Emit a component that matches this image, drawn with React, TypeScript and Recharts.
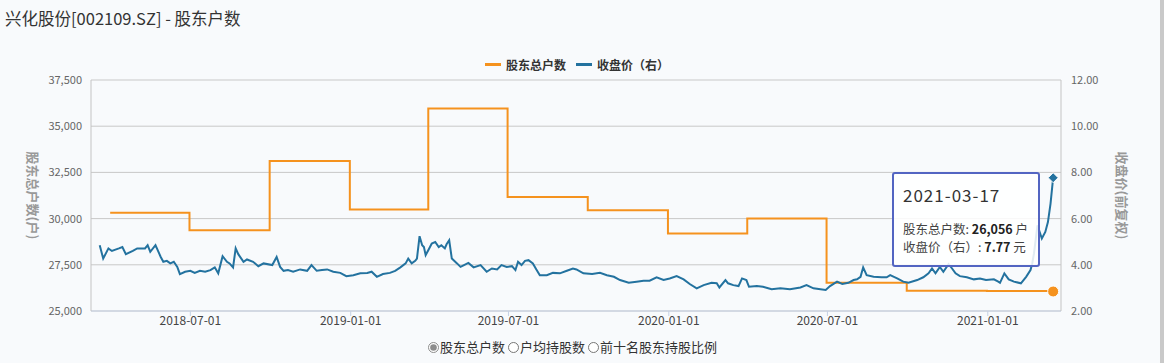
import React from 'react';
import { LineChart, Line, XAxis, YAxis, CartesianGrid, Tooltip, Legend } from 'recharts';

const TITLE = '兴化股份[002109.SZ] - 股东户数';
const SERIES_HOLDERS = '股东总户数';
const SERIES_PRICE = '收盘价（右）';
const LEFT_AXIS_NAME = '股东总户数(户)';
const RIGHT_AXIS_NAME = '收盘价(前复权)';
const RADIO_LABELS = ['股东总户数', '户均持股数', '前十名股东持股比例'];

const holderDates = [
  '2018-03-31', '2018-06-30', '2018-09-30', '2018-12-31', '2019-03-31', '2019-06-30',
  '2019-09-30', '2019-12-31', '2020-03-31', '2020-06-30', '2020-09-30', '2020-12-31', '2021-03-17',
];
const holderValues = [30320, 29370, 33120, 30490, 35960, 31170, 30450, 29190, 30010, 26530, 26100, 26080, 26056];

const priceDates = [
  '2018-03-19', '2018-03-23', '2018-03-29', '2018-04-02', '2018-04-10', '2018-04-14', '2018-04-18', '2018-04-26',
  '2018-05-01', '2018-05-10', '2018-05-13', '2018-05-16', '2018-05-22', '2018-05-28', '2018-05-31', '2018-06-04',
  '2018-06-08', '2018-06-12', '2018-06-16', '2018-06-19', '2018-06-25', '2018-07-01', '2018-07-06', '2018-07-12',
  '2018-07-18', '2018-07-24', '2018-07-29', '2018-08-02', '2018-08-07', '2018-08-12', '2018-08-15', '2018-08-19',
  '2018-08-22', '2018-08-25', '2018-08-31', '2018-09-04', '2018-09-11', '2018-09-17', '2018-09-23', '2018-10-03',
  '2018-10-08', '2018-10-12', '2018-10-16', '2018-10-21', '2018-10-27', '2018-11-04', '2018-11-12', '2018-11-17',
  '2018-11-23', '2018-11-29', '2018-12-05', '2018-12-12', '2018-12-20', '2018-12-27', '2019-01-04', '2019-01-12',
  '2019-01-20', '2019-01-25', '2019-01-31', '2019-02-07', '2019-02-15', '2019-02-21', '2019-02-27', '2019-03-05',
  '2019-03-08', '2019-03-12', '2019-03-16', '2019-03-18', '2019-03-21', '2019-03-24', '2019-03-26', '2019-03-28',
  '2019-03-31', '2019-04-04', '2019-04-08', '2019-04-12', '2019-04-15', '2019-04-19', '2019-04-21', '2019-04-24',
  '2019-04-27', '2019-05-03', '2019-05-07', '2019-05-11', '2019-05-16', '2019-05-22', '2019-05-30', '2019-06-06',
  '2019-06-12', '2019-06-18', '2019-06-23', '2019-06-29', '2019-07-05', '2019-07-09', '2019-07-12', '2019-07-16',
  '2019-07-20', '2019-07-24', '2019-07-29', '2019-08-02', '2019-08-06', '2019-08-14', '2019-08-21', '2019-08-29',
  '2019-09-06', '2019-09-13', '2019-09-17', '2019-09-25', '2019-10-05', '2019-10-14', '2019-10-22', '2019-10-30',
  '2019-11-06', '2019-11-16', '2019-11-25', '2019-12-03', '2019-12-10', '2019-12-18', '2019-12-26', '2020-01-02',
  '2020-01-10', '2020-01-18', '2020-01-25', '2020-02-02', '2020-02-10', '2020-02-19', '2020-02-25', '2020-02-28',
  '2020-03-06', '2020-03-09', '2020-03-15', '2020-03-21', '2020-03-25', '2020-03-30', '2020-04-02', '2020-04-11',
  '2020-04-18', '2020-04-28', '2020-05-08', '2020-05-19', '2020-05-31', '2020-06-07', '2020-06-15', '2020-06-23',
  '2020-06-29', '2020-07-04', '2020-07-12', '2020-07-18', '2020-07-25', '2020-07-31', '2020-08-04', '2020-08-08',
  '2020-08-11', '2020-08-15', '2020-08-23', '2020-09-01', '2020-09-07', '2020-09-11', '2020-09-19', '2020-09-26',
  '2020-10-02', '2020-10-12', '2020-10-19', '2020-10-25', '2020-10-29', '2020-11-02', '2020-11-07', '2020-11-11',
  '2020-11-17', '2020-11-21', '2020-11-25', '2020-11-30', '2020-12-08', '2020-12-16', '2020-12-23', '2020-12-30',
  '2021-01-08', '2021-01-13', '2021-01-15', '2021-01-20', '2021-01-25', '2021-01-31', '2021-02-08', '2021-02-14',
  '2021-02-19', '2021-02-21', '2021-02-23', '2021-02-27', '2021-03-04', '2021-03-08', '2021-03-11', '2021-03-14',
  '2021-03-17',
];
const priceValues = [
  4.85, 4.27, 4.71, 4.60, 4.71, 4.77, 4.46, 4.60,
  4.71, 4.71, 4.85, 4.56, 4.85, 4.34, 4.13, 4.17,
  4.06, 4.13, 3.91, 3.60, 3.70, 3.74, 3.65, 3.74,
  3.70, 3.77, 3.89, 3.63, 4.37, 4.13, 4.06, 3.89,
  4.71, 4.46, 4.13, 4.23, 4.13, 3.94, 4.06, 3.99,
  4.34, 3.91, 3.74, 3.77, 3.70, 3.80, 3.74, 3.99,
  3.74, 3.77, 3.80, 3.70, 3.65, 3.51, 3.55, 3.63,
  3.65, 3.70, 3.48, 3.60, 3.65, 3.74, 3.89, 4.06,
  4.27, 4.06, 4.17, 4.27, 5.24, 4.85, 4.77, 4.42,
  4.63, 4.92, 4.99, 4.77, 4.85, 4.71, 4.89, 5.06,
  4.27, 4.06, 3.91, 3.99, 4.08, 3.89, 3.99, 3.70,
  3.84, 3.80, 3.99, 3.91, 3.94, 3.77, 4.13, 3.99,
  4.17, 4.20, 4.06, 3.80, 3.55, 3.55, 3.65, 3.63,
  3.74, 3.84, 3.80, 3.63, 3.60, 3.65, 3.55, 3.48,
  3.34, 3.22, 3.27, 3.31, 3.31, 3.46, 3.34, 3.41,
  3.51, 3.37, 3.17, 2.98, 3.12, 3.22, 3.20, 3.02,
  3.34, 3.20, 3.12, 3.08, 3.41, 3.34, 3.05, 3.08,
  3.05, 2.94, 2.98, 2.94, 3.02, 3.12, 2.98, 2.94,
  2.91, 3.08, 3.27, 3.17, 3.22, 3.34, 3.37, 3.48,
  3.89, 3.55, 3.48, 3.46, 3.46, 3.55, 3.41, 3.27,
  3.22, 3.34, 3.46, 3.63, 3.84, 3.63, 3.91, 3.70,
  4.03, 3.84, 3.63, 3.51, 3.46, 3.37, 3.41, 3.34,
  3.37, 3.27, 3.22, 3.63, 3.37, 3.27, 3.20, 3.48,
  3.77, 4.06, 4.49, 5.71, 5.14, 5.42, 5.85, 6.65,
  7.77,
];

const xTickDates = ['2018-07-01', '2019-01-01', '2019-07-01', '2020-01-01', '2020-07-01', '2021-01-01'];
const xDomainDates = ['2018-03-09', '2021-03-26'];
const leftTicks = [25000, 27500, 30000, 32500, 35000, 37500];
const rightTicks = [2, 4, 6, 8, 10, 12];

const ORANGE = '#f5921e';
const BLUE = '#23729f';
const FONT = '"Noto Sans CJK SC", "Noto Sans", sans-serif';

const toT = (s: string) => {
  const [y, m, d] = s.split('-').map(Number);
  return Date.UTC(y, m - 1, d);
};
const fmtDate = (t: number) => {
  const d = new Date(t);
  const p = (n: number) => String(n).padStart(2, '0');
  return `${d.getUTCFullYear()}-${p(d.getUTCMonth() + 1)}-${p(d.getUTCDate())}`;
};

type Row = { date: string; t: number; holders?: number; price?: number };
const rowMap = new Map<string, Row>();
priceDates.forEach((d, i) => {
  rowMap.set(d, { date: d, t: toT(d), price: priceValues[i] });
});
holderDates.forEach((d, i) => {
  const r = rowMap.get(d) || { date: d, t: toT(d) };
  r.holders = holderValues[i];
  rowMap.set(d, r);
});
const data: Row[] = Array.from(rowMap.values()).sort((a, b) => a.t - b.t);
const LAST_DATE = data[data.length - 1].date;
const lastIndex = data.length - 1;

const EndCircle = (p: any) => {
  const k = `hd-${p.index}`;
  if (!p.payload || p.payload.date !== LAST_DATE || p.cx == null || p.cy == null) return <g key={k} />;
  return <circle key={k} cx={p.cx} cy={p.cy} r={5.5} fill={ORANGE} stroke="#fff" strokeWidth={1} />;
};
const EndDiamond = (p: any) => {
  const k = `pd-${p.index}`;
  if (!p.payload || p.payload.date !== LAST_DATE || p.cx == null || p.cy == null) return <g key={k} />;
  const s = 5;
  return (
    <path
      key={k}
      d={`M${p.cx},${p.cy - s} L${p.cx + s},${p.cy} L${p.cx},${p.cy + s} L${p.cx - s},${p.cy} Z`}
      fill={BLUE}
      stroke="#fff"
      strokeWidth={1}
    />
  );
};

const TipBox = (props: any) => {
  const { payload } = props;
  if (!payload || !payload.length) return null;
  const row: Row = payload[0].payload;
  return (
    <div
      style={{
        width: 144,
        height: 91,
        boxSizing: 'content-box',
        border: '2px solid #5365c2',
        borderRadius: 3,
        background: 'rgba(255,255,255,0.86)',
        fontFamily: FONT,
        color: '#333',
        padding: 0,
        position: 'relative',
      }}
    >
      <div style={{ position: 'absolute', left: 9, top: 10, fontSize: 17, letterSpacing: 1, lineHeight: '22px', color: '#333' }}>
        {row.date}
      </div>
      <div style={{ position: 'absolute', left: 9, top: 46, fontSize: 12.5, lineHeight: '18px', whiteSpace: 'nowrap', color: '#444' }}>
        {SERIES_HOLDERS}: <b style={{ color: '#222' }}>{row.holders != null ? row.holders.toLocaleString('en-US') : ''}</b> 户
      </div>
      <div style={{ position: 'absolute', left: 9, top: 64, fontSize: 12.5, lineHeight: '18px', whiteSpace: 'nowrap', color: '#444' }}>
        {SERIES_PRICE}: <b style={{ color: '#222' }}>{row.price != null ? row.price.toFixed(2) : ''}</b> 元
      </div>
    </div>
  );
};

const LegendBox = () => (
  <div style={{ display: 'flex', alignItems: 'center', fontFamily: FONT, fontSize: 12, fontWeight: 'bold', color: '#333', whiteSpace: 'nowrap' }}>
    <span style={{ display: 'inline-block', width: 16, height: 3, background: ORANGE, marginRight: 5 }} />
    <span>{SERIES_HOLDERS}</span>
    <span style={{ display: 'inline-block', width: 16, height: 3, background: BLUE, marginLeft: 10, marginRight: 5 }} />
    <span>{SERIES_PRICE}</span>
  </div>
);

const axisName = (text: string, dx: number) => (p: any) => {
  const vb = p.viewBox || {};
  const x = vb.x + dx;
  const y = vb.y + vb.height / 2;
  return (
    <text
      x={x}
      y={y}
      transform={`rotate(90, ${x}, ${y})`}
      textAnchor="middle"
      dominantBaseline="central"
      fontSize={13}
      fontWeight="bold"
      fill="#999"
      fontFamily={FONT}
    >
      {text}
    </text>
  );
};

export default function App() {
  return (
    <div style={{ position: 'relative', width: 1164, height: 363, background: '#f8fafc', fontFamily: FONT, overflow: 'hidden' }}>
      <style>{`body{margin:0;background:#f8fafc;}`}</style>
      <div style={{ position: 'absolute', left: 5, top: 8, fontSize: 16.5, lineHeight: '20px', color: '#333', whiteSpace: 'nowrap' }}>
        {TITLE}
      </div>
      <div style={{ position: 'absolute', left: 1160, top: 0, width: 4, height: 363, background: '#c9c9c9' }} />
      <div style={{ position: 'absolute', left: 0, top: 0 }}>
        <LineChart width={1160} height={335} data={data} margin={{ top: 80, right: 0, bottom: 0, left: 0 }}>
          <CartesianGrid yAxisId="left" vertical={false} stroke="#c8c8c8" strokeWidth={1} />
          <XAxis
            dataKey="t"
            type="number"
            domain={xDomainDates.map(toT)}
            ticks={xTickDates.map(toT)}
            tickFormatter={(v: number) => fmtDate(v)}
            allowDataOverflow
            height={24}
            stroke="#c6d1e4"
            tickSize={5}
            tickMargin={0}
            tick={{ fill: '#444', fontSize: 12, fontFamily: FONT }}
          />
          <YAxis
            yAxisId="left"
            orientation="left"
            width={91}
            domain={[25000, 37500]}
            ticks={leftTicks}
            interval={0}
            tickFormatter={(v: number) => v.toLocaleString('en-US')}
            axisLine={{ stroke: '#c4c4c4' }}
            tickLine={false}
            tickSize={0}
            tickMargin={9}
            tick={{ fill: '#666', fontSize: 11, fontFamily: FONT }}
            label={axisName(LEFT_AXIS_NAME, 33)}
          />
          <YAxis
            yAxisId="right"
            orientation="right"
            width={99}
            domain={[2, 12]}
            ticks={rightTicks}
            interval={0}
            tickFormatter={(v: number) => v.toFixed(2)}
            axisLine={{ stroke: '#c4c4c4' }}
            tickLine={false}
            tickSize={0}
            tickMargin={10}
            tick={{ fill: '#666', fontSize: 11, fontFamily: FONT }}
            label={axisName(RIGHT_AXIS_NAME, 61)}
          />
          <Legend
            verticalAlign="middle"
            align="center"
            layout="horizontal"
            content={() => <LegendBox />}
            wrapperStyle={{ left: 485, top: 56, width: 220, height: 16 }}
          />
          <Line
            yAxisId="left"
            dataKey="holders"
            name={SERIES_HOLDERS}
            type="stepAfter"
            stroke={ORANGE}
            strokeWidth={2}
            connectNulls
            dot={EndCircle}
            activeDot={false}
            isAnimationActive={false}
          />
          <Line
            yAxisId="right"
            dataKey="price"
            name={SERIES_PRICE}
            type="linear"
            stroke={BLUE}
            strokeWidth={2}
            connectNulls
            dot={EndDiamond}
            activeDot={false}
            isAnimationActive={false}
          />
          <Tooltip
            active
            defaultIndex={lastIndex}
            position={{ x: 892, y: 172 }}
            cursor={false}
            content={<TipBox />}
            isAnimationActive={false}
            wrapperStyle={{ outline: 'none' }}
          />
        </LineChart>
      </div>
      <div style={{ position: 'absolute', left: 428, top: 338, display: 'flex', alignItems: 'center', fontSize: 13, color: '#333', whiteSpace: 'nowrap', lineHeight: '18px' }}>
        {RADIO_LABELS.map((l, i) => (
          <label key={l} style={{ display: 'flex', alignItems: 'center', marginLeft: i === 0 ? 0 : 3 }}>
            <input
              type="radio"
              name="kind"
              checked={i === 0}
              readOnly
              style={{ margin: '0 1px 0 0', width: 11, height: 11, accentColor: '#8c8c8c' }}
            />
            <span>{l}</span>
          </label>
        ))}
      </div>
    </div>
  );
}
